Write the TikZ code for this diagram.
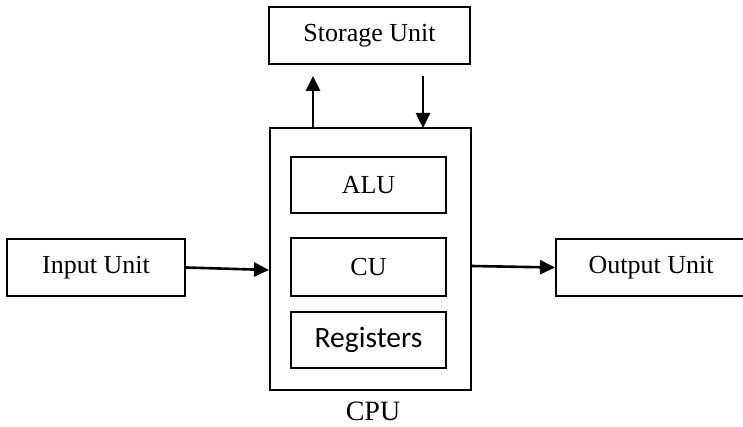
\documentclass[tikz,border=0pt]{standalone}
\usepackage{fontspec}
\setmainfont{Liberation Serif}
\newfontfamily\regfont{Carlito}
\usetikzlibrary{arrows.meta}
\begin{document}
\begin{tikzpicture}[x=1pt,y=-1pt,
  box/.style={draw,line width=2pt,inner sep=0pt,font=\fontsize{26}{30}\selectfont},
  conn/.style={line width=2.6pt,-{Triangle[length=15pt,width=14pt]}}]
\useasboundingbox (0,0) rectangle (743,427);
\node[box,minimum width=201pt,minimum height=57pt] (storage) at (369.5,35.5) {Storage Unit};
\node[box,minimum width=201pt,minimum height=262pt] (cpu) at (370.5,259) {};
\node[box,minimum width=155pt,minimum height=56pt] (alu) at (368.5,185) {ALU};
\node[box,minimum width=155pt,minimum height=58pt] (cu) at (368.5,267) {CU};
\node[box,minimum width=155pt,minimum height=56pt,font=\regfont\fontsize{29.5}{32}\selectfont] (reg) at (368.5,340) {Registers};
\node[box,minimum width=196pt,minimum height=57pt] (output) at (654,267.5) {\hspace*{-6pt}Output Unit};
\node[box,minimum width=178pt,minimum height=57pt] (input) at (96,267.5) {Input Unit};
\node[font=\fontsize{28}{32}\selectfont,inner sep=0pt,anchor=base] (cpulabel) at (373,420) {CPU};
\coordinate (upA) at (313,128);
\coordinate (upB) at (313,76);
\coordinate (dnA) at (423,76);
\coordinate (dnB) at (423,128);
\draw[conn] (upA) -- (upB);
\draw[conn] (dnA) -- (dnB);
\draw[conn] (input.east) -- ([yshift=-11pt]cpu.west);
\draw[conn] ([yshift=-7pt]cpu.east) -- (output.west);
\end{tikzpicture}
\end{document}
